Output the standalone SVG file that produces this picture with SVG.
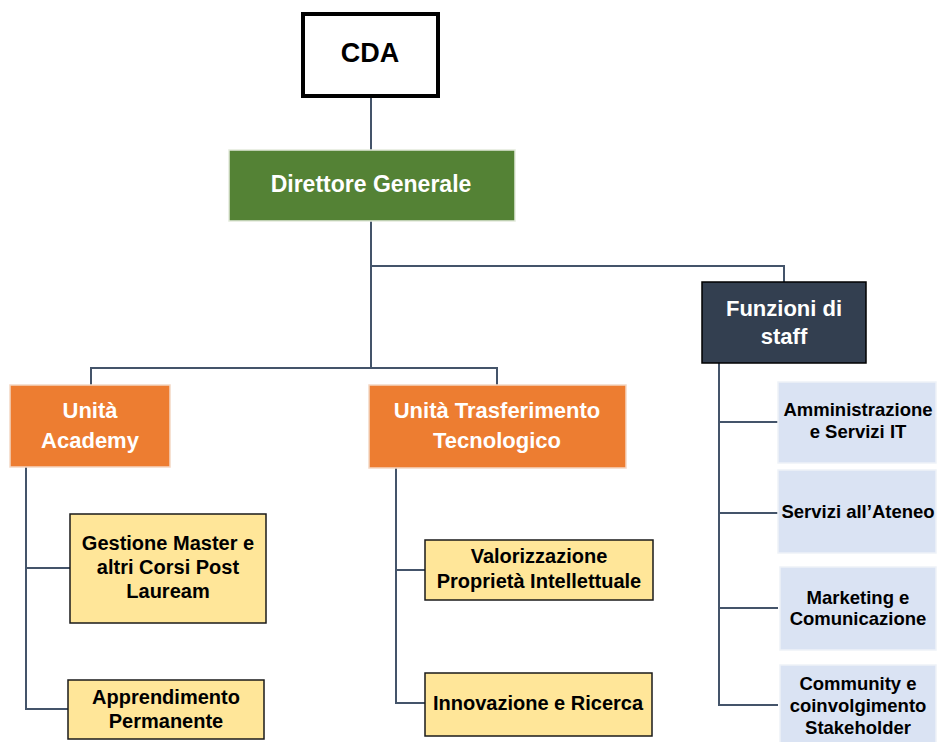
<svg xmlns="http://www.w3.org/2000/svg" width="937" height="742" viewBox="0 0 937 742">
<style>
text{font-family:"Liberation Sans",Arial,sans-serif;font-weight:bold;text-anchor:middle}
.c{fill:none;stroke:#44546A;stroke-width:2}
.w{fill:#fff}
.k{fill:#000}
.org{fill:#ED7D31;stroke:#F4D7C4;stroke-width:1.5}
.yel{fill:#FFE699;stroke:#1a1a1a;stroke-width:1.5}
.blu{fill:#DAE3F3;stroke:#EEF2F8;stroke-width:1.5}
</style>
<g id="connectors">
<path class="c" d="M371 98V150"/>
<path class="c" d="M371 221V368M91 385V368H497V385M371 266H784V282"/>
<path class="c" d="M26 467V709H68M26 568H70"/>
<path class="c" d="M396 468V703H425M396 570H425"/>
<path class="c" d="M719 363V705H778M719 422H778M719 513H778M719 608H778"/>
</g>
<g id="cda">
<rect x="303" y="14" width="135" height="82" fill="#fff" stroke="#000" stroke-width="4"/>
<text x="370" y="62" font-size="27" class="k">CDA</text>
</g>
<g id="direttore">
<rect x="229" y="150" width="286" height="71" fill="#548235" stroke="#E3EADC" stroke-width="1.5"/>
<text x="371" y="192" font-size="23" class="w">Direttore Generale</text>
</g>
<g id="academy">
<rect class="org" x="10" y="385" width="160" height="82"/>
<text x="90" y="418" font-size="22" class="w">Unità</text>
<text x="90" y="448" font-size="22" class="w">Academy</text>
</g>
<g id="trasferimento">
<rect class="org" x="369" y="385" width="257" height="83"/>
<text x="497" y="418" font-size="22" class="w">Unità Trasferimento</text>
<text x="497" y="448" font-size="22" class="w">Tecnologico</text>
</g>
<g id="staff">
<rect x="702" y="282" width="164" height="81" fill="#333F50" stroke="#000" stroke-width="1.5"/>
<text x="784" y="316" font-size="22" class="w">Funzioni di</text>
<text x="784" y="344" font-size="22" class="w">staff</text>
</g>
<g id="gestione">
<rect class="yel" x="70" y="514" width="196" height="109"/>
<text x="168" y="550" font-size="20" class="k">Gestione Master e</text>
<text x="168" y="574" font-size="20" class="k">altri Corsi Post</text>
<text x="168" y="598" font-size="20" class="k">Lauream</text>
</g>
<g id="apprendimento">
<rect class="yel" x="68" y="680" width="196" height="59"/>
<text x="166" y="704" font-size="20" class="k">Apprendimento</text>
<text x="166" y="728" font-size="20" class="k">Permanente</text>
</g>
<g id="valorizzazione">
<rect class="yel" x="425" y="540" width="228" height="60"/>
<text x="539" y="563" font-size="20" class="k">Valorizzazione</text>
<text x="539" y="588" font-size="20" class="k">Proprietà Intellettuale</text>
</g>
<g id="innovazione">
<rect class="yel" x="425" y="673" width="227" height="63"/>
<text x="538" y="710" font-size="20" class="k">Innovazione e Ricerca</text>
</g>
<g id="amministrazione">
<rect class="blu" x="778" y="382" width="158" height="81"/>
<text x="858" y="416" font-size="18.5" class="k">Amministrazione</text>
<text x="858" y="438" font-size="18.5" class="k">e Servizi IT</text>
</g>
<g id="servizi">
<rect class="blu" x="778" y="470" width="158" height="83"/>
<text x="858" y="518" font-size="18.5" class="k">Servizi all’Ateneo</text>
</g>
<g id="marketing">
<rect class="blu" x="780" y="567" width="156" height="83"/>
<text x="858" y="604" font-size="18.5" class="k">Marketing e</text>
<text x="858" y="625" font-size="18.5" class="k">Comunicazione</text>
</g>
<g id="community">
<rect class="blu" x="780" y="665" width="156" height="80"/>
<text x="858" y="690" font-size="18.5" class="k">Community e</text>
<text x="858" y="712" font-size="18.5" class="k">coinvolgimento</text>
<text x="858" y="734" font-size="18.5" class="k">Stakeholder</text>
</g>
</svg>
